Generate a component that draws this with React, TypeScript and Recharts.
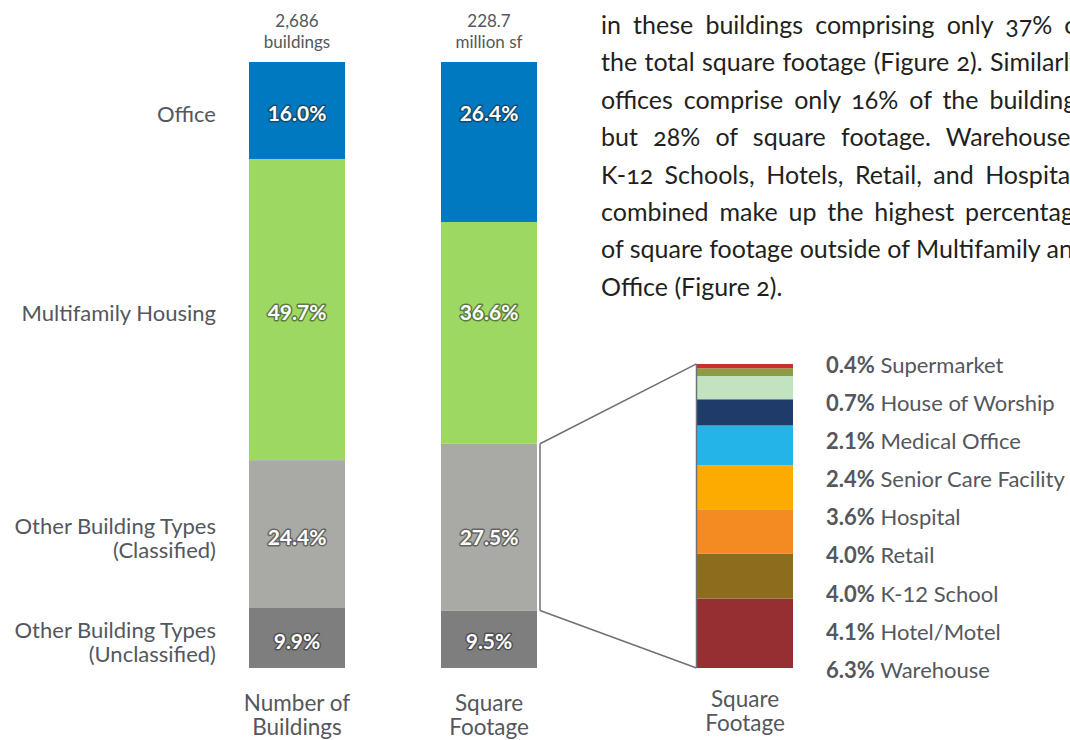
import React from 'react'
import { BarChart, Bar, XAxis, YAxis, ReferenceLine, Legend } from 'recharts'

const FONT = 'Lato, "Open Sans", sans-serif'
const TEXT = '#54575d'

// columns of the chart
const COLUMN_X = [0, 3, 7]
const COLUMN_TOTALS = ['2,686', '228.7']
const COLUMN_UNITS = ['buildings', 'million sf']
const AXIS_LABELS = [['Number of', 'Buildings'], ['Square', 'Footage'], ['Square', 'Footage']]

// main stacks, bottom to top
const MAIN_TYPES = [
  'Other Building Types (Unclassified)',
  'Other Building Types (Classified)',
  'Multifamily Housing',
  'Office',
]
const BUILDINGS_PCT = [9.9, 24.4, 49.7, 16.0]
const FOOTAGE_PCT = [9.5, 27.5, 36.6, 26.4]
const MAIN_COLORS = ['#7e7e7e', '#a9aaa5', '#9cd862', '#0079c1']

// breakdown of classified square footage, bottom to top
const DETAIL_TYPES = [
  'Warehouse',
  'Hotel/Motel',
  'K-12 School',
  'Retail',
  'Hospital',
  'Senior Care Facility',
  'Medical Office',
  'House of Worship',
  'Supermarket',
]
const DETAIL_PCT = [6.3, 4.1, 4.0, 4.0, 3.6, 2.4, 2.1, 0.7, 0.4]
const DETAIL_COLORS = ['#952f31', '#8c6d1e', '#f38a22', '#fdab00', '#24b5e8', '#1f3b69', '#c1e3bf', '#8e9b46', '#c9302a']

const PARAGRAPH = [
  'in these buildings comprising only 37% of',
  'the total square footage (Figure 2). Similarly,',
  'offices comprise only 16% of the buildings',
  'but 28% of square footage. Warehouses,',
  'K-12 Schools, Hotels, Retail, and Hospitals',
  'combined make up the highest percentage',
  'of square footage outside of Multifamily and',
  'Office (Figure 2).',
]

const W = 1070
const H = 740
const MARGIN = { top: 62, right: 5, bottom: 0, left: 9 }
const X_DOMAIN: [number, number] = [-4.5, 12]
const PX_PER_UNIT = (W - MARGIN.left - MARGIN.right) / (X_DOMAIN[1] - X_DOMAIN[0])
const BAR = 96
const DETAIL_MAX = 55

const mainKey = (i: number) => `m${i}`
const detailKey = (i: number) => `d${i}`
const sumTo = (arr: number[], n: number) => arr.slice(0, n).reduce((a, b) => a + b, 0)

const chartData = [
  { pos: COLUMN_X[0], ...Object.fromEntries(BUILDINGS_PCT.map((v, i) => [mainKey(i), v])) },
  { pos: COLUMN_X[1], ...Object.fromEntries(FOOTAGE_PCT.map((v, i) => [mainKey(i), v])) },
  { pos: COLUMN_X[2], ...Object.fromEntries(DETAIL_PCT.map((v, i) => [detailKey(i), v])) },
]

// bracket tying the classified slice to its breakdown
const half = BAR / 2 / PX_PER_UNIT
const bracketL = COLUMN_X[1] + half + 3 / PX_PER_UNIT
const bracketR = COLUMN_X[2] - half - 0.5 / PX_PER_UNIT
const classLow = FOOTAGE_PCT[0]
const classHigh = FOOTAGE_PCT[0] + FOOTAGE_PCT[1]
const detailTop = (DETAIL_PCT.reduce((a, b) => a + b, 0) * 100) / DETAIL_MAX
const BRACKET = [
  [{ x: bracketL, y: classLow }, { x: bracketL, y: classHigh }],
  [{ x: bracketL, y: classHigh }, { x: bracketR, y: detailTop }],
  [{ x: bracketL, y: classLow }, { x: bracketR, y: 0 }],
  [{ x: bracketR, y: 0 }, { x: bracketR, y: detailTop }],
]

const mainShape = (seg: number) => (props: any) => {
  const { x, y, width, height, payload } = props
  const v = payload?.[mainKey(seg)]
  if (v == null || !height) return <g />
  const cx = x + width / 2
  const col = COLUMN_X.indexOf(payload.pos)
  const colPct = col === 0 ? BUILDINGS_PCT : FOOTAGE_PCT
  // labels of both columns line up with the centres of the first column's slices
  const pxPerPct = height / v
  const target = sumTo(BUILDINGS_PCT, seg) + BUILDINGS_PCT[seg] / 2
  const cy = y + height - (target - sumTo(colPct, seg)) * pxPerPct
  const nameLines = MAIN_TYPES[seg].replace(' (', '\n(').split('\n')
  return (
    <g>
      <rect x={x} y={y} width={width} height={height} fill={MAIN_COLORS[seg]} />
      <text
        x={cx}
        y={cy + 2}
        textAnchor="middle"
        dominantBaseline="central"
        fontFamily={FONT}
        fontSize={21}
        fontWeight={700}
        fill="#fff"
        stroke="rgba(40,40,40,0.55)"
        strokeWidth={3}
        strokeLinejoin="round"
        paintOrder="stroke"
      >
        {v.toFixed(1)}%
      </text>
      {col === 0 &&
        nameLines.map((line, k) => (
          <text
            key={k}
            x={x - 33}
            y={cy + 3 + (k - (nameLines.length - 1) / 2) * 24}
            textAnchor="end"
            dominantBaseline="central"
            fontFamily={FONT}
            fontSize={22}
            fill={TEXT}
          >
            {line}
          </text>
        ))}
      {seg === MAIN_TYPES.length - 1 &&
        [COLUMN_TOTALS[col], COLUMN_UNITS[col]].map((line, k) => (
          <text
            key={k}
            x={cx}
            y={y - 42 + k * 21}
            textAnchor="middle"
            dominantBaseline="central"
            fontFamily={FONT}
            fontSize={17}
            fill={TEXT}
          >
            {line}
          </text>
        ))}
    </g>
  )
}

const AxisTick = ({ x, y, payload }: any) => {
  const i = COLUMN_X.indexOf(payload.value)
  const lines = AXIS_LABELS[i] ?? []
  return (
    <text x={x} y={y} textAnchor="middle" fill={TEXT} fontSize={22.5} fontFamily={FONT}>
      {lines.map((l, k) => (
        <tspan key={k} x={x} dy={k === 0 ? (i === 2 ? 31 : 35) : 24}>
          {l}
        </tspan>
      ))}
    </text>
  )
}

const DetailLegend = () => (
  <div style={{ fontFamily: FONT, fontSize: 22, color: TEXT }}>
    {DETAIL_TYPES.map((_, k) => {
      const i = DETAIL_TYPES.length - 1 - k
      return (
        <div key={i} style={{ height: 38.1, lineHeight: '38.1px', whiteSpace: 'nowrap' }}>
          <b>{DETAIL_PCT[i].toFixed(1)}%</b> {DETAIL_TYPES[i]}
        </div>
      )
    })}
  </div>
)

export default function App() {
  return (
    <div
      style={{
        position: 'absolute',
        left: 0,
        top: 0,
        width: W,
        height: H,
        overflow: 'hidden',
        background: '#fff',
      }}
    >
      <BarChart width={W} height={H} data={chartData} margin={MARGIN} barSize={BAR}>
        <XAxis
          type="number"
          dataKey="pos"
          domain={X_DOMAIN}
          ticks={COLUMN_X}
          interval={0}
          height={72}
          axisLine={false}
          tickLine={false}
          tick={<AxisTick />}
        />
        <YAxis yAxisId="main" domain={[0, 100]} hide />
        <YAxis yAxisId="detail" domain={[0, DETAIL_MAX]} hide />
        {MAIN_TYPES.map((name, i) => (
          <Bar
            key={name}
            name={name}
            dataKey={mainKey(i)}
            yAxisId="main"
            stackId="s"
            fill={MAIN_COLORS[i]}
            shape={mainShape(i)}
            isAnimationActive={false}
          />
        ))}
        {DETAIL_TYPES.map((name, i) => (
          <Bar
            key={name}
            name={name}
            dataKey={detailKey(i)}
            yAxisId="detail"
            stackId="s"
            fill={DETAIL_COLORS[i]}
            isAnimationActive={false}
          />
        ))}
        {BRACKET.map((seg, i) => (
          <ReferenceLine
            key={i}
            yAxisId="main"
            segment={seg}
            stroke="#6e7077"
            strokeWidth={1.5}
          />
        ))}
        <Legend
          layout="vertical"
          align="center"
          verticalAlign="middle"
          content={<DetailLegend />}
          wrapperStyle={{ left: 826, top: 346, width: 250 }}
        />
      </BarChart>
      <div
        style={{
          position: 'absolute',
          left: 601,
          top: 6,
          width: 486,
          fontFamily: FONT,
          fontSize: 25,
          lineHeight: '37.4px',
          color: '#231f20',
          fontVariantNumeric: 'oldstyle-nums',
        }}
      >
        {PARAGRAPH.map((line, i) => (
          <div
            key={i}
            style={{
              whiteSpace: 'nowrap',
              textAlign: 'justify',
              textAlignLast: i === PARAGRAPH.length - 1 ? 'left' : 'justify',
            }}
          >
            {line}
          </div>
        ))}
      </div>
    </div>
  )
}
